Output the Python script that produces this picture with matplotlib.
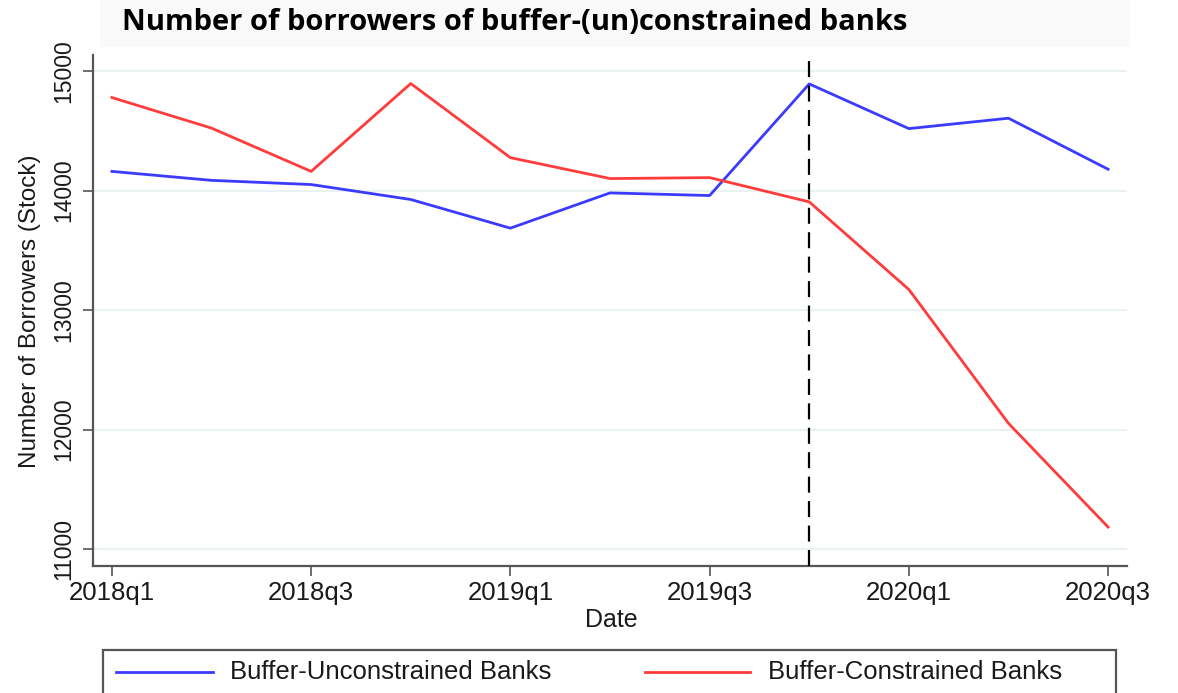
import matplotlib
matplotlib.use("Agg")
import matplotlib.pyplot as plt
from matplotlib.patches import Rectangle
from matplotlib.lines import Line2D

# Quarterly borrower counts, 2018q1 - 2020q3
quarters = ["2018q1", "2018q2", "2018q3", "2018q4", "2019q1", "2019q2",
            "2019q3", "2019q4", "2020q1", "2020q2", "2020q3"]
unconstrained = [14160, 14085, 14050, 13925, 13685, 13980, 13958, 14892, 14518, 14605, 14178]
constrained = [14778, 14522, 14160, 14895, 14275, 14100, 14108, 13905, 13172, 12052, 11184]

tick_labels = ["2018q1", "2018q3", "2019q1", "2019q3", "2020q1", "2020q3"]
y_ticks = [11000, 12000, 13000, 14000, 15000]
event_quarter = "2019q4"

title = "Number of borrowers of buffer-(un)constrained banks"
series_names = ["Buffer-Unconstrained Banks", "Buffer-Constrained Banks"]

W, H = 1178, 693
fig = plt.figure(figsize=(W / 100, H / 100), dpi=100)
fig.patch.set_facecolor("white")


def fx(px):
    return px / W


def fy(py):
    return 1 - py / H


# axes box in pixels
AX_L, AX_R, AX_T, AX_B = 93, 1127, 55, 566

# light band behind the title
fig.patches.append(Rectangle((fx(100), fy(47)), fx(1030), 47 / H,
                             transform=fig.transFigure, facecolor="#f9f9f9",
                             edgecolor="none", zorder=0))
fig.text(fx(122), fy(22), title, fontsize=21, fontweight="bold",
         family="Open Sans", va="center", ha="left", color="black")

ax = fig.add_axes([fx(AX_L), fy(AX_B), fx(AX_R - AX_L), (AX_B - AX_T) / H])
ax.set_facecolor("white")

x = list(range(len(quarters)))
blue = "#3b3bff"
red = "#ff3b3b"
ax.plot(x, unconstrained, color=blue, lw=2.0, zorder=3)
ax.plot(x, constrained, color=red, lw=2.0, zorder=3)

ev = quarters.index(event_quarter)
ax.axvline(ev, color="black", lw=1.6, dashes=(7.2, 3.8), zorder=4)

ax.set_xlim(-0.19, 10.19)
ax.set_ylim(10858, 15134)

ax.set_xticks([quarters.index(t) for t in tick_labels])
ax.set_xticklabels(tick_labels, family="Liberation Sans", fontsize=18.5)
ax.set_yticks(y_ticks)
ax.set_yticklabels([str(v) for v in y_ticks], family="Liberation Sans",
                   fontsize=16.5, rotation=90, va="center")

ax.grid(axis="y", color="#e8f0f0", lw=1.3, zorder=1)
ax.grid(axis="x", visible=False)

for s in ["top", "right"]:
    ax.spines[s].set_visible(False)
for s in ["left", "bottom"]:
    ax.spines[s].set_color("#555555")
    ax.spines[s].set_linewidth(1.6)

ax.tick_params(axis="both", direction="out", length=7, width=1.2,
               color="#555555", labelcolor="#1a1a1a")
ax.tick_params(axis="x", pad=4)
ax.tick_params(axis="y", pad=6)

aw = AX_R - AX_L
ah = AX_B - AX_T
ax.set_ylabel("Number of Borrowers (Stock)", family="Liberation Sans",
              fontsize=17.5, color="#1a1a1a", va="center")
ax.yaxis.set_label_coords((30 - AX_L) / aw, (AX_B - 311) / ah)
ax.set_xlabel("Date", family="Liberation Sans", fontsize=18, color="#1a1a1a",
              va="center")
ax.xaxis.set_label_coords((611 - AX_L) / aw, (AX_B - 620) / ah)

# legend box along the bottom edge
fig.patches.append(Rectangle((fx(103), fy(710)), fx(1116 - 103), (710 - 650) / H,
                             transform=fig.transFigure, facecolor="white",
                             edgecolor="#555555", lw=1.6, zorder=2))
fig.lines.append(Line2D([fx(116), fx(213)], [fy(672), fy(672)],
                        transform=fig.transFigure, color=blue, lw=2.0, zorder=3))
fig.text(fx(230), fy(672), series_names[0], family="Liberation Sans",
         fontsize=18.5, va="center", ha="left", color="#1a1a1a", zorder=3)
fig.lines.append(Line2D([fx(645), fx(750)], [fy(672), fy(672)],
                        transform=fig.transFigure, color=red, lw=2.0, zorder=3))
fig.text(fx(768), fy(672), series_names[1], family="Liberation Sans",
         fontsize=18.5, va="center", ha="left", color="#1a1a1a", zorder=3)

fig.savefig("out.png", dpi=100, facecolor="white")
